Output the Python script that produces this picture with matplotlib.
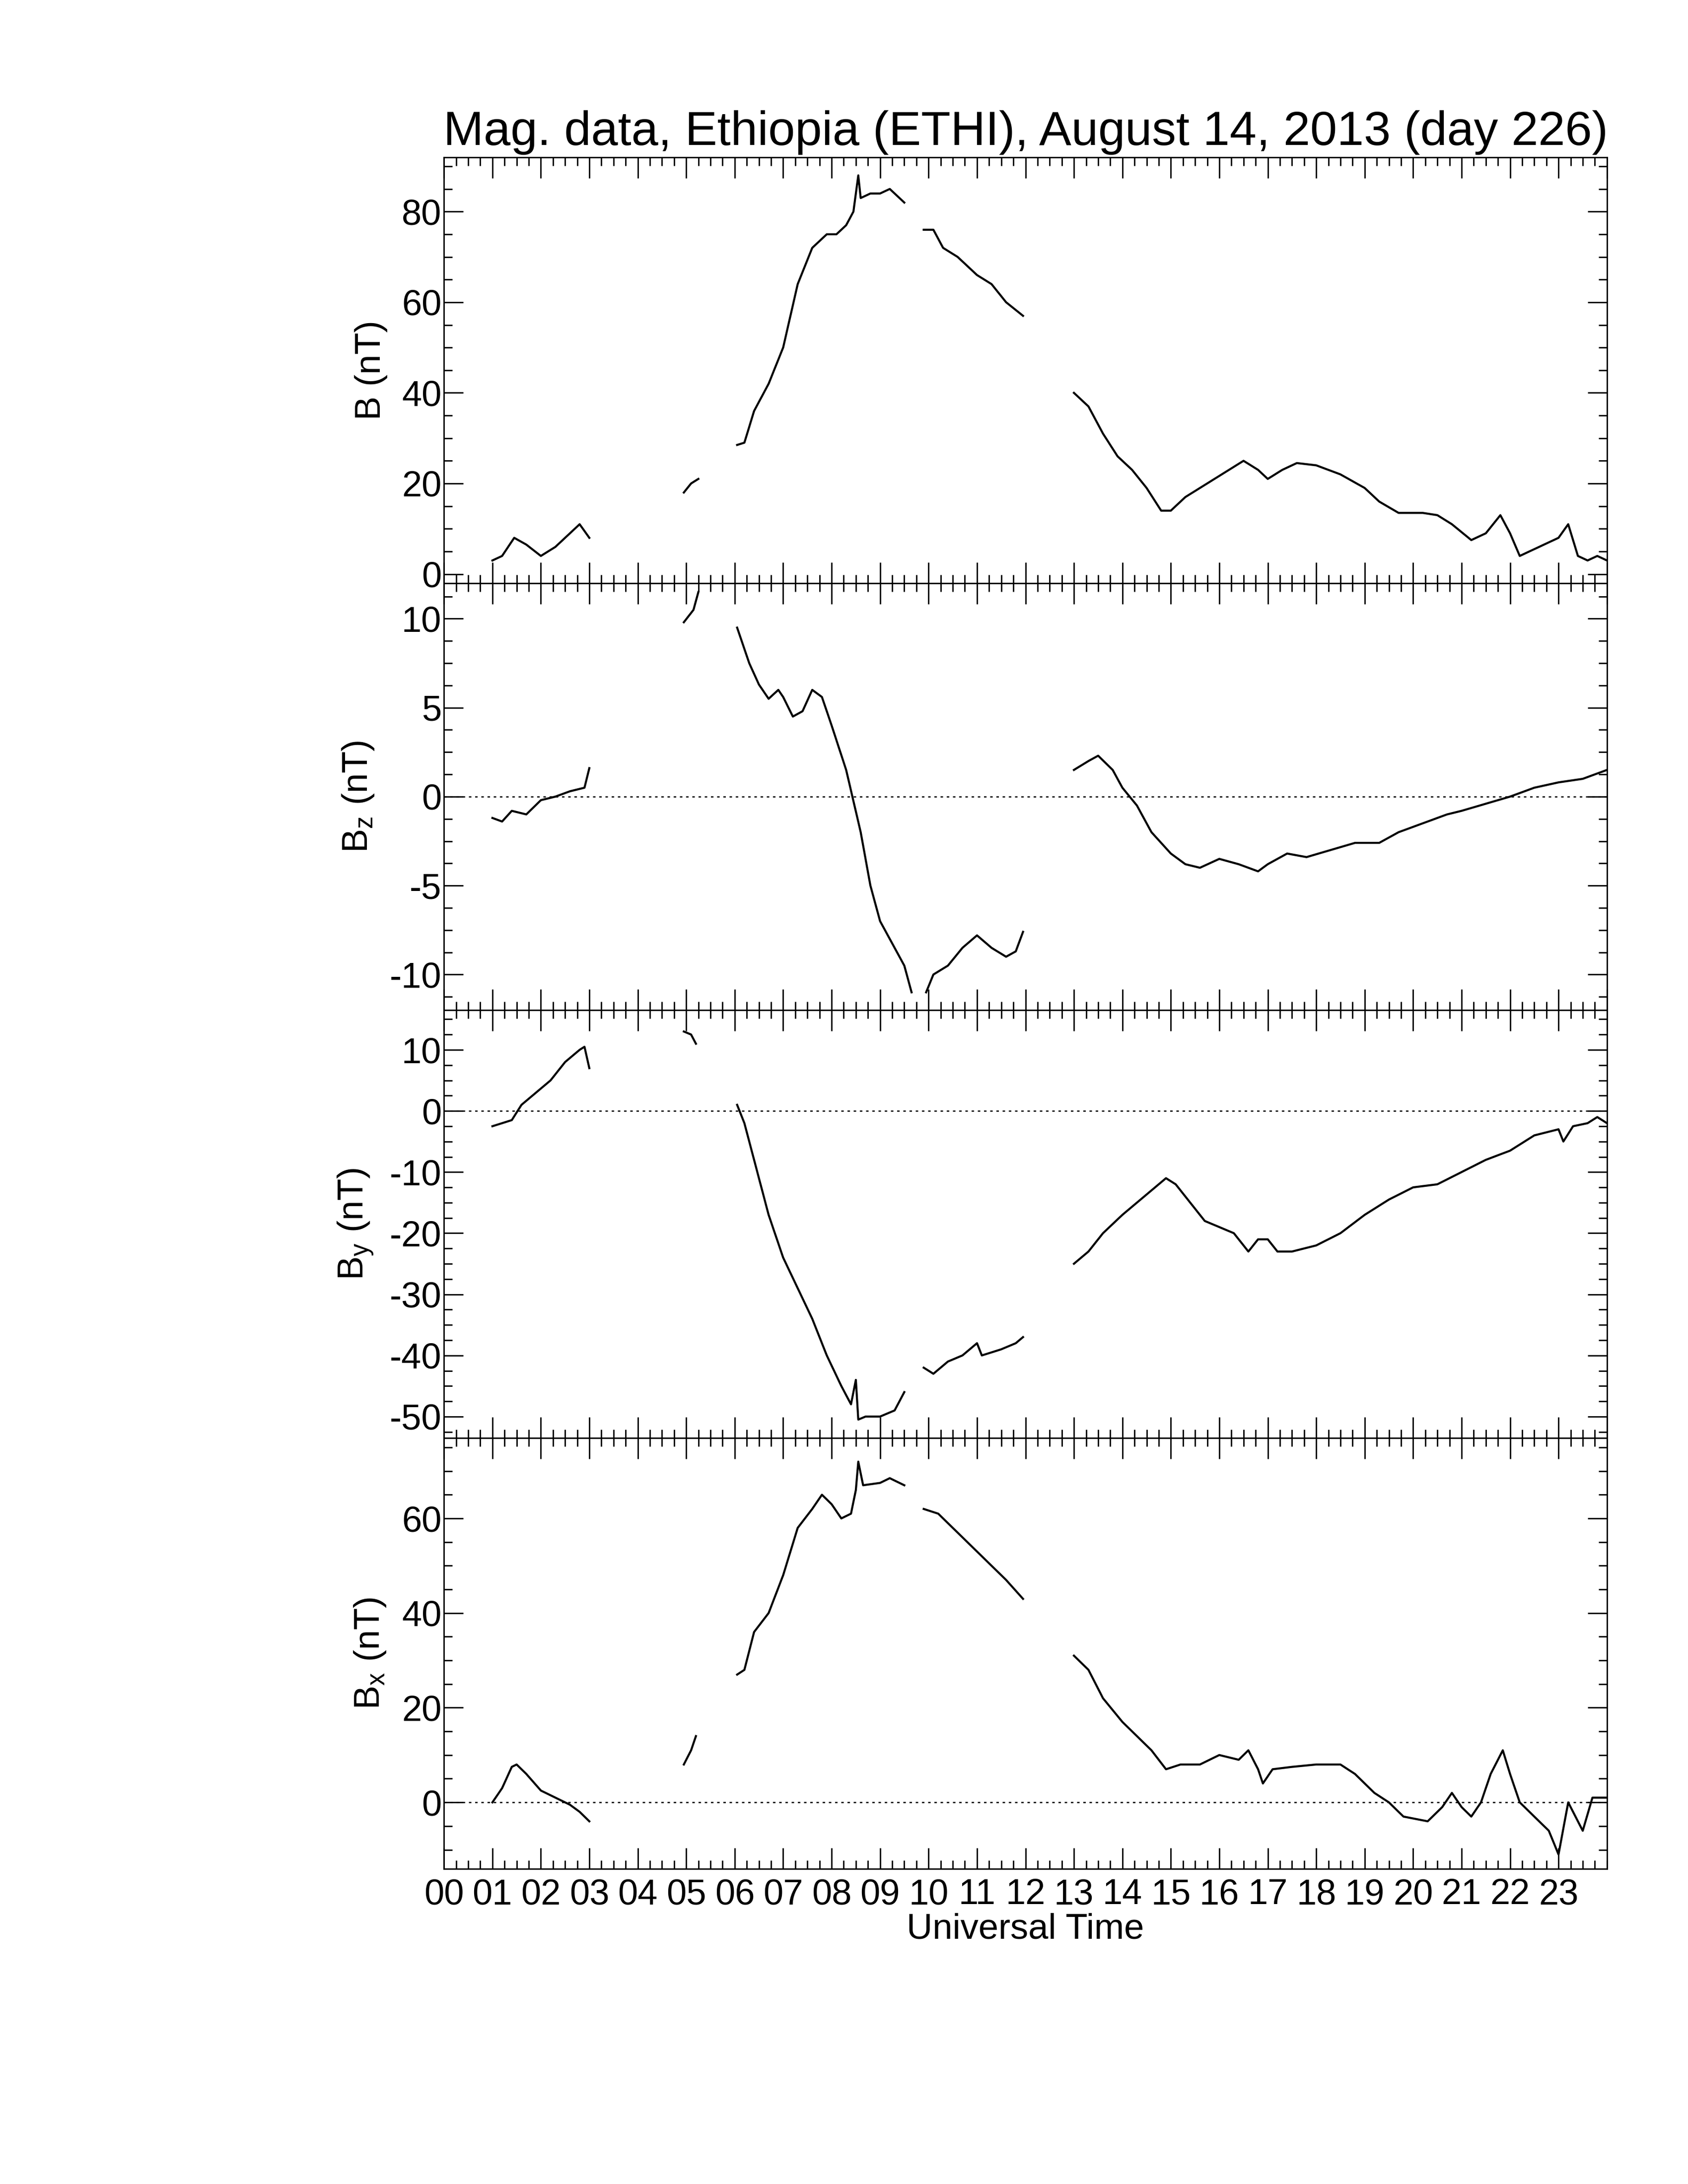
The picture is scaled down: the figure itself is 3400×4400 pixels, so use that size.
import numpy as np
import matplotlib
matplotlib.use("Agg")
import matplotlib.pyplot as plt
from matplotlib.ticker import MultipleLocator, AutoMinorLocator

plt.rcParams['font.family'] = ['Liberation Sans', 'DejaVu Sans']
plt.rcParams['axes.unicode_minus'] = False

# (hour, value) segments, gaps between segments
b_segs = [
    [(1.0, 3), (1.2, 4), (1.45, 8), (1.7, 6.5), (2.0, 4), (2.3, 6), (2.6, 9), (2.8, 11), (3.0, 8)],
    [(4.95, 18), (5.1, 20), (5.25, 21)],
    [(6.05, 28.5), (6.2, 29), (6.4, 36), (6.7, 42), (7.0, 50), (7.3, 64), (7.6, 72), (7.9, 75),
     (8.1, 75), (8.3, 77), (8.45, 80), (8.55, 88), (8.6, 83), (8.8, 84), (9.0, 84), (9.2, 85), (9.5, 82)],
    [(9.9, 76), (10.1, 76), (10.3, 72), (10.6, 70), (11.0, 66), (11.3, 64), (11.6, 60), (11.95, 57)],
    [(13.0, 40), (13.3, 37), (13.6, 31), (13.9, 26), (14.2, 23), (14.5, 19), (14.8, 14), (15.0, 14),
     (15.3, 17), (15.6, 19), (15.9, 21), (16.2, 23), (16.5, 25), (16.8, 23), (17.0, 21), (17.3, 23),
     (17.6, 24.5), (18.0, 24), (18.5, 22), (19.0, 19), (19.3, 16), (19.7, 13.5), (20.2, 13.5),
     (20.5, 13), (20.8, 11), (21.2, 7.5), (21.5, 9), (21.8, 13), (22.0, 9), (22.2, 4), (22.6, 6),
     (23.0, 8), (23.2, 11), (23.4, 4), (23.6, 3), (23.8, 4), (24.0, 3)],
]
bz_segs = [
    [(1.0, -1.2), (1.2, -1.4), (1.4, -0.8), (1.7, -1), (2.0, -0.2), (2.3, 0), (2.6, 0.3), (2.9, 0.5), (3.0, 1.6)],
    [(4.95, 9.8), (5.15, 10.5), (5.25, 11.5)],
    [(6.05, 9.5), (6.3, 7.5), (6.5, 6.3), (6.7, 5.5), (6.9, 6.0), (7.0, 5.6), (7.2, 4.5), (7.4, 4.8),
     (7.6, 6.0), (7.8, 5.6), (8.0, 4), (8.3, 1.5), (8.6, -2), (8.8, -5), (9.0, -7), (9.2, -8),
     (9.5, -9.5), (9.65, -11)],
    [(9.95, -11), (10.1, -10), (10.4, -9.5), (10.7, -8.5), (11.0, -7.8), (11.3, -8.5), (11.6, -9),
     (11.8, -8.7), (11.95, -7.6)],
    [(13.0, 1.5), (13.3, 2), (13.5, 2.3), (13.8, 1.5), (14.0, 0.5), (14.3, -0.5), (14.6, -2), (15.0, -3.2),
     (15.3, -3.8), (15.6, -4), (16.0, -3.5), (16.4, -3.8), (16.8, -4.2), (17.0, -3.8), (17.4, -3.2),
     (17.8, -3.4), (18.3, -3), (18.8, -2.6), (19.3, -2.6), (19.7, -2), (20.2, -1.5), (20.7, -1),
     (21.0, -0.8), (21.5, -0.4), (22.0, 0), (22.5, 0.5), (23.0, 0.8), (23.5, 1), (24.0, 1.5)],
]
by_segs = [
    [(1.0, -2.5), (1.2, -2), (1.4, -1.5), (1.6, 1), (1.9, 3), (2.2, 5), (2.5, 8), (2.8, 10), (2.9, 10.5), (3.0, 7)],
    [(4.95, 13), (5.1, 12.5), (5.2, 11)],
    [(6.05, 1), (6.2, -2), (6.4, -8), (6.7, -17), (7.0, -24), (7.3, -29), (7.6, -34), (7.9, -40),
     (8.2, -45), (8.4, -48), (8.5, -44), (8.55, -50.5), (8.7, -50), (9.0, -50), (9.3, -49), (9.5, -46)],
    [(9.9, -42), (10.1, -43), (10.4, -41), (10.7, -40), (11.0, -38), (11.1, -40), (11.5, -39),
     (11.8, -38), (11.95, -37)],
    [(13.0, -25), (13.3, -23), (13.6, -20), (14.0, -17), (14.3, -15), (14.6, -13), (14.9, -11),
     (15.1, -12), (15.4, -15), (15.7, -18), (16.0, -19), (16.3, -20), (16.6, -23), (16.8, -21),
     (17.0, -21), (17.2, -23), (17.5, -23), (18.0, -22), (18.5, -20), (19.0, -17), (19.5, -14.5),
     (20.0, -12.5), (20.5, -12), (21.0, -10), (21.5, -8), (22.0, -6.5), (22.5, -4), (23.0, -3),
     (23.1, -5), (23.3, -2.5), (23.6, -2), (23.8, -1), (24.0, -2)],
]
bx_segs = [
    [(1.0, 0), (1.2, 3), (1.4, 7.5), (1.5, 8), (1.7, 6), (2.0, 2.5), (2.3, 1), (2.6, -0.5), (2.8, -2), (3.0, -4)],
    [(4.95, 8), (5.1, 11), (5.2, 14)],
    [(6.05, 27), (6.2, 28), (6.4, 36), (6.7, 40), (7.0, 48), (7.3, 58), (7.6, 62), (7.8, 65), (8.0, 63),
     (8.2, 60), (8.4, 61), (8.5, 66), (8.55, 72), (8.65, 67), (9.0, 67.5), (9.2, 68.5), (9.5, 67)],
    [(9.9, 62), (10.2, 61), (10.5, 58), (10.8, 55), (11.2, 51), (11.6, 47), (11.95, 43)],
    [(13.0, 31), (13.3, 28), (13.6, 22), (14.0, 17), (14.3, 14), (14.6, 11), (14.9, 7), (15.2, 8),
     (15.6, 8), (16.0, 10), (16.4, 9), (16.6, 11), (16.8, 7), (16.9, 4), (17.1, 7), (17.5, 7.5),
     (18.0, 8), (18.5, 8), (18.8, 6), (19.2, 2), (19.5, 0), (19.8, -3), (20.3, -4), (20.6, -1),
     (20.8, 2), (21.0, -1), (21.2, -3), (21.4, 0), (21.6, 6), (21.85, 11), (22.0, 6), (22.2, 0),
     (22.5, -3), (22.8, -6), (23.0, -11), (23.2, 0), (23.5, -6), (23.7, 1), (24.0, 1)],
]

panels = [
    (b_segs, "B (nT)", (-2, 92), 20, False),
    (bz_segs, r"B$_\mathregular{z}$ (nT)", (-12, 12), 5, True),
    (by_segs, r"B$_\mathregular{y}$ (nT)", (-53.5, 16.5), 10, True),
    (bx_segs, r"B$_\mathregular{x}$ (nT)", (-14, 77), 20, True),
]
hour_labels = ["%02d" % h for h in range(24)]

fig = plt.figure(figsize=(34, 44), dpi=100)
left, right = 0.263, 0.952
edges = [0.928, 0.733, 0.5375, 0.3416, 0.1444]
fs = 52

for i, (segs, ylabel, ylim, major, zero) in enumerate(panels):
    ax = fig.add_axes([left, edges[i + 1], right - left, edges[i] - edges[i + 1]])
    for seg in segs:
        t, v = zip(*seg)
        ax.plot(t, v, color="black", lw=3)
    if zero:
        ax.axhline(0, color="black", lw=1.8, ls=(0, (2, 3)))
    ax.set_xlim(0, 24)
    ax.set_ylim(*ylim)
    ax.xaxis.set_major_locator(MultipleLocator(1))
    ax.xaxis.set_minor_locator(MultipleLocator(0.25))
    ax.yaxis.set_major_locator(MultipleLocator(major))
    ax.yaxis.set_minor_locator(AutoMinorLocator(4))
    ax.tick_params(which="both", direction="in", top=True, right=True, width=2, labelsize=fs)
    ax.tick_params(which="major", length=28)
    ax.tick_params(which="minor", length=12)
    ax.tick_params(axis="x", which="major", length=30)
    for s in ax.spines.values():
        s.set_linewidth(2)
    ax.set_ylabel(ylabel, fontsize=fs, labelpad=20)
    if i == 3:
        ax.set_xticks(range(24))
        ax.set_xticklabels(hour_labels)
        ax.tick_params(axis="x", pad=14)
        ax.set_xlabel("Universal Time", fontsize=fs, labelpad=2)
    else:
        ax.set_xticklabels([])
    if i == 0:
        ax.set_title("Mag. data, Ethiopia (ETHI), August 14, 2013 (day 226)", fontsize=70, pad=18)

fig.savefig("out.png", dpi=100)
